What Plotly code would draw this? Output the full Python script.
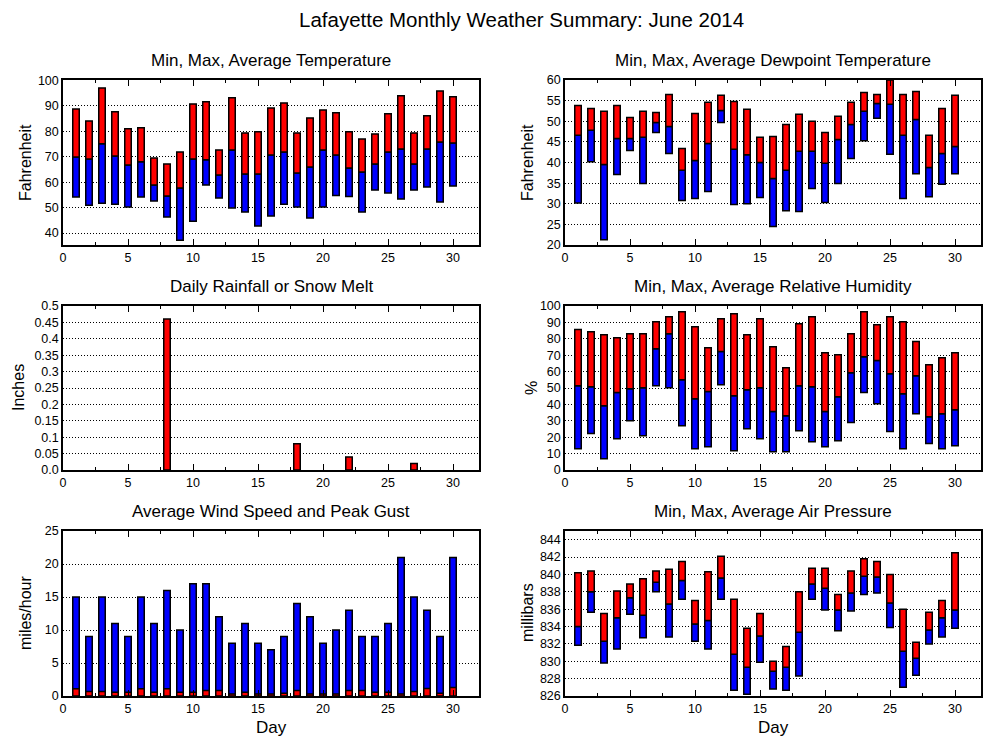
import plotly.graph_objects as go
import numpy as np

days = list(range(1, 31))

temp_max = [88.8, 84.1, 97.1, 87.7, 81.0, 81.4, 69.5, 67.2, 71.9, 90.8, 91.6, 72.7, 93.2, 79.4, 79.8,
            89.2, 91.2, 79.4, 85.3, 88.4, 87.3, 79.8, 77.0, 79.0, 86.9, 94.0, 79.4, 86.1, 95.9, 93.6]
temp_avg = [69.9, 69.1, 75.1, 70.3, 66.8, 68.0, 58.9, 54.6, 57.7, 69.1, 68.8, 62.8, 72.7, 63.2, 63.2,
            70.7, 71.9, 63.6, 66.0, 72.7, 70.7, 65.6, 64.0, 67.2, 71.9, 73.1, 67.2, 73.1, 75.8, 75.4]
temp_min = [54.2, 50.9, 51.7, 51.3, 50.2, 54.2, 52.6, 46.3, 37.2, 44.6, 58.9, 53.8, 49.9, 48.3, 42.8,
            46.7, 51.3, 50.2, 45.9, 50.2, 54.8, 54.4, 48.3, 56.9, 55.8, 53.4, 56.9, 58.1, 52.2, 58.5]

dew_max = [53.8, 53.1, 52.4, 53.8, 50.9, 52.4, 52.1, 56.5, 43.4, 51.9, 54.6, 56.3, 54.8, 52.9, 46.1,
           46.3, 49.2, 51.7, 50.0, 47.3, 51.2, 54.6, 57.0, 56.5, 60.0, 56.5, 57.2, 46.6, 53.1, 56.3]
dew_avg = [46.6, 47.8, 39.5, 45.8, 45.8, 46.1, 49.7, 48.7, 38.1, 40.5, 44.6, 52.6, 43.2, 41.9, 40.0,
           36.1, 38.1, 42.7, 42.7, 39.8, 45.6, 49.2, 52.4, 54.3, 54.1, 46.6, 50.4, 38.8, 42.2, 43.9]
dew_min = [30.2, 40.2, 21.3, 37.1, 42.9, 34.9, 47.3, 42.2, 30.8, 31.3, 33.0, 49.7, 29.8, 30.0, 31.5,
           24.5, 28.3, 28.1, 33.7, 30.3, 34.9, 41.0, 45.3, 50.7, 42.0, 31.3, 37.3, 31.7, 34.7, 37.3]

rain = [0, 0, 0, 0, 0, 0, 0, 0.46, 0, 0, 0, 0, 0, 0, 0,
        0, 0, 0.08, 0, 0, 0, 0.04, 0, 0, 0, 0, 0.02, 0, 0, 0]

hum_max = [85.6, 84.3, 82.5, 80.7, 83.1, 83.1, 90.4, 93.5, 96.5, 87.4, 74.6, 92.3, 95.3, 82.5, 92.3,
           75.2, 62.4, 89.2, 93.5, 71.5, 70.3, 83.1, 96.5, 88.6, 93.5, 90.4, 78.3, 64.2, 68.5, 71.5]
hum_avg = [51.4, 50.8, 39.2, 47.2, 49.6, 50.2, 74.0, 83.1, 55.1, 43.5, 47.8, 72.2, 45.3, 49.0, 50.2,
           35.6, 33.1, 51.4, 50.8, 35.6, 44.7, 59.3, 69.1, 66.7, 58.7, 46.5, 57.5, 32.5, 34.3, 36.8]
hum_min = [13.0, 22.2, 6.9, 19.1, 30.1, 20.9, 51.4, 50.2, 27.0, 13.0, 14.2, 52.0, 11.8, 25.2, 19.1,
           11.2, 11.2, 24.0, 17.3, 14.2, 17.9, 28.9, 47.2, 40.4, 23.4, 13.0, 34.3, 16.1, 13.0, 14.8]

wind_gust = [15, 9, 15, 11, 9, 15, 11, 16, 10, 17, 17, 12, 8, 11, 8,
             7, 9, 14, 12, 8, 10, 13, 9, 9, 11, 21, 15, 13, 9, 21]
wind_avg = [1.1, 0.7, 0.7, 0.55, 0.55, 1.1, 0.55, 1.1, 0.55, 0.55, 0.85, 0.85, 0.3, 0.55, 0.3,
            0.3, 0.4, 0.85, 0.3, 0.3, 0.3, 0.85, 0.85, 0.55, 0.55, 0.3, 0.7, 1.15, 0.4, 1.3]

pres_max = [840.2, 840.4, 835.5, 838.1, 838.9, 839.5, 840.4, 840.6, 841.5, 837.0, 840.3, 842.1, 837.15, 833.8, 835.5,
            830.0, 831.7, 838.0, 840.7, 840.7, 837.7, 840.4, 841.8, 841.5, 840.0, 836.0, 832.2, 835.65, 837.0, 842.5]
pres_avg = [834.0, 838.0, 832.3, 835.0, 837.3, 835.3, 839.1, 836.6, 839.3, 834.3, 834.7, 839.6, 830.8, 829.3, 832.9,
            828.85, 829.3, 833.35, 838.9, 838.4, 835.9, 837.85, 839.8, 839.7, 836.7, 831.15, 830.35, 833.6, 835.0, 835.9]
pres_min = [831.85, 835.65, 829.8, 831.4, 835.4, 832.7, 838.0, 832.8, 837.15, 832.3, 831.4, 837.15, 826.65, 826.2, 829.9,
            826.8, 826.65, 828.3, 837.15, 835.9, 833.5, 835.8, 837.7, 837.85, 833.9, 827.0, 828.4, 832.0, 832.8, 833.8]

RED = "#ff0000"
BLUE = "#0000ff"
BW = 0.5
LINE = dict(color="black", width=1.5)

fig = go.Figure()


def float_bars(mins, avgs, maxs, ax):
    mins, avgs, maxs = np.array(mins), np.array(avgs), np.array(maxs)
    fig.add_trace(go.Bar(x=days, y=avgs - mins, base=mins, width=BW,
                         marker=dict(color=BLUE, line=LINE),
                         xaxis="x" + ax, yaxis="y" + ax, showlegend=False))
    fig.add_trace(go.Bar(x=days, y=maxs - avgs, base=avgs, width=BW,
                         marker=dict(color=RED, line=LINE),
                         xaxis="x" + ax, yaxis="y" + ax, showlegend=False))


float_bars(temp_min, temp_avg, temp_max, "")
float_bars(dew_min, dew_avg, dew_max, "2")
rain_plot = [r if r > 0 else None for r in rain]
fig.add_trace(go.Bar(x=days, y=rain_plot, width=BW, marker=dict(color=RED, line=LINE),
                     xaxis="x3", yaxis="y3", showlegend=False))
float_bars(hum_min, hum_avg, hum_max, "4")
fig.add_trace(go.Bar(x=days, y=wind_gust, width=BW, marker=dict(color=BLUE, line=LINE),
                     xaxis="x5", yaxis="y5", showlegend=False))
fig.add_trace(go.Bar(x=days, y=wind_avg, width=BW, marker=dict(color=RED, line=LINE),
                     xaxis="x5", yaxis="y5", showlegend=False))
float_bars(pres_min, pres_avg, pres_max, "6")

W, H = 1000, 750
OFF = 8  # page body margin of the viewer
FONT = "Liberation Sans, Arial, Helvetica, sans-serif"

panels = {
    "1": (63, 479, 80, 245, [35.3, 100.2], 40, 10),
    "2": (565, 981, 80, 245, [20, 60], 20, 5),
    "3": (63, 479, 306, 470, [0, 0.5], 0, 0.05),
    "4": (565, 981, 306, 470, [0, 100], 0, 10),
    "5": (63, 479, 531, 696, [0, 25], 0, 5),
    "6": (565, 981, 531, 696, [826, 845], 826, 2),
}

layout = dict(width=W, height=H,
              margin=dict(l=0, r=0, t=0, b=0, pad=0, autoexpand=False),
              template="none",
              paper_bgcolor="white", plot_bgcolor="white", barmode="overlay",
              font=dict(family=FONT, size=12, color="black"), showlegend=False)

for k, (x0, x1, y0, y1, yr, t0, dt) in panels.items():
    sfx = "" if k == "1" else k
    layout["xaxis" + sfx] = dict(domain=[(x0 - OFF) / W, (x1 - OFF) / W], anchor="y" + sfx, range=[0, 32],
                                 tick0=0, dtick=5, ticks="inside", ticklen=6, tickcolor="black",
                                 minor=dict(dtick=2.5, ticks="inside", ticklen=3, tickcolor="black"),
                                 showline=True, linecolor="black", linewidth=1.5, mirror="ticks",
                                 showgrid=False, zeroline=False, automargin=False,
                                 tickfont=dict(size=12.5))
    yd = dict(domain=[1 - (y1 - OFF) / H, 1 - (y0 - OFF) / H], anchor="x" + sfx, range=yr,
              tick0=t0, dtick=dt, ticks="", showline=True, linecolor="black",
              linewidth=1.5, mirror=True, showgrid=True, gridcolor="black",
              griddash="1px,2px", gridwidth=1, zeroline=False, automargin=False,
              tickfont=dict(size=12.5))
    if k == "3":
        yd["tickvals"] = [0, 0.05, 0.1, 0.15, 0.2, 0.25, 0.3, 0.35, 0.4, 0.45, 0.5]
        yd["ticktext"] = ["0.0", "0.05", "0.1", "0.15", "0.2", "0.25", "0.3", "0.35", "0.4", "0.45", "0.5"]
    layout["yaxis" + sfx] = yd

ann = []


def text(x, y, s, size, angle=0):
    ann.append(dict(x=(x - OFF) / W, y=1 - (y - OFF) / H, xref="paper", yref="paper", text=s,
                    showarrow=False, font=dict(size=size, family=FONT, color="black"),
                    textangle=angle, xanchor="center", yanchor="middle", borderpad=0))


text(521, 19.5, "Lafayette Monthly Weather Summary: June 2014", 20.5)
text(271, 61, "Min, Max, Average Temperature", 17)
text(773, 61, "Min, Max, Average Dewpoint Temperature", 17)
text(271, 286, "Daily Rainfall or Snow Melt", 17)
text(773, 286, "Min, Max, Average Relative Humidity", 17)
text(271, 511, "Average Wind Speed and Peak Gust", 17)
text(773, 511, "Min, Max, Average Air Pressure", 17)
text(25, 163, "Fahrenheit", 16, -90)
text(527, 163, "Fahrenheit", 16, -90)
text(18, 388, "Inches", 16, -90)
text(531, 388, "%", 16, -90)
text(25, 613, "miles/hour", 16, -90)
text(527, 613, "millibars", 16, -90)
text(271, 727, "Day", 17)
text(773, 727, "Day", 17)

layout["annotations"] = ann
fig.update_layout(**layout)
fig.write_html("out.html")
